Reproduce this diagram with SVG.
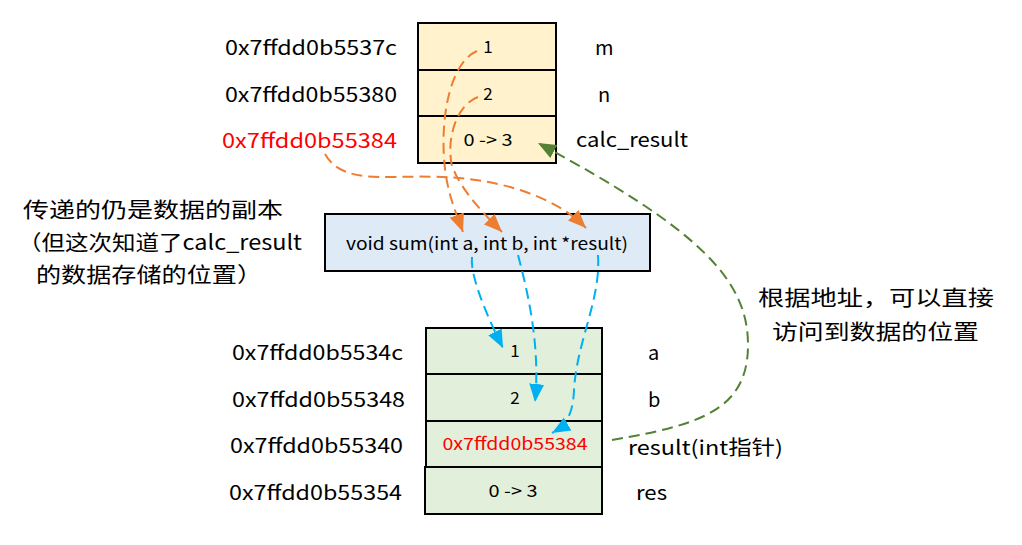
<svg xmlns="http://www.w3.org/2000/svg" width="1022" height="545" viewBox="0 0 1022 545">
<style>
text{font-family:"Noto Sans CJK SC","Liberation Sans",sans-serif;fill:#000}
.lbl{font-size:20px}
.val{font-size:17px;text-anchor:middle}
.red{fill:#FF0000}
.cn{font-size:21px}
.cell{stroke:#000;stroke-width:2}
.top{fill:#FFF2CC}
.mid{fill:#DEEBF7}
.bot{fill:#E2EFDA}
.or{fill:none;stroke:#ED7D31;stroke-width:2;stroke-dasharray:11 6;marker-end:url(#ao)}
.bl{fill:none;stroke:#00B0F0;stroke-width:2;stroke-dasharray:11 6;marker-end:url(#ab)}
.gr{fill:none;stroke:#548235;stroke-width:2;stroke-dasharray:11 6;marker-end:url(#ag)}
</style>
<defs>
<marker id="ao" markerUnits="userSpaceOnUse" markerWidth="20" markerHeight="18" refX="18" refY="9" orient="auto"><path d="M0,1.5 L18,9 L0,16.5 Z" fill="#ED7D31"/></marker>
<marker id="ab" markerUnits="userSpaceOnUse" markerWidth="20" markerHeight="18" refX="18" refY="9" orient="auto"><path d="M0,1.5 L18,9 L0,16.5 Z" fill="#00B0F0"/></marker>
<marker id="ag" markerUnits="userSpaceOnUse" markerWidth="20" markerHeight="18" refX="18" refY="9" orient="auto"><path d="M0,1.5 L18,9 L0,16.5 Z" fill="#548235"/></marker>
</defs>

<g id="caller-memory">
<rect class="cell top" x="418" y="23" width="138" height="47"/>
<rect class="cell top" x="418" y="70" width="138" height="46"/>
<rect class="cell top" x="418" y="116" width="138" height="47"/>
<text class="val" x="488" y="53">1</text>
<text class="val" x="488" y="100">2</text>
<text class="val" x="488" y="146" textLength="49" lengthAdjust="spacingAndGlyphs">0 -&gt; 3</text>
<text class="lbl" x="225" y="55" textLength="172" lengthAdjust="spacingAndGlyphs">0x7ffdd0b5537c</text>
<text class="lbl" x="225" y="102" textLength="172" lengthAdjust="spacingAndGlyphs">0x7ffdd0b55380</text>
<text class="lbl red" x="222" y="148" textLength="175" lengthAdjust="spacingAndGlyphs">0x7ffdd0b55384</text>
<text class="lbl" x="595" y="55">m</text>
<text class="lbl" x="598" y="102">n</text>
<text class="lbl" x="576" y="147" textLength="112" lengthAdjust="spacingAndGlyphs">calc_result</text>
</g>

<g id="function">
<rect class="cell mid" x="325" y="214" width="325" height="57"/>
<text x="346" y="250" style="font-size:17px" textLength="282" lengthAdjust="spacingAndGlyphs">void sum(int a, int b, int *result)</text>
</g>

<g id="callee-memory">
<rect class="cell bot" x="426" y="328" width="176" height="46"/>
<rect class="cell bot" x="426" y="374" width="176" height="47"/>
<rect class="cell bot" x="426" y="421" width="176" height="46"/>
<rect class="cell bot" x="425" y="467" width="177" height="47"/>
<text class="val" x="515" y="357">1</text>
<text class="val" x="515" y="404">2</text>
<text class="val red" x="515" y="450" textLength="145" lengthAdjust="spacingAndGlyphs">0x7ffdd0b55384</text>
<text class="val" x="513" y="497" textLength="49" lengthAdjust="spacingAndGlyphs">0 -&gt; 3</text>
<text class="lbl" x="232" y="360" textLength="171" lengthAdjust="spacingAndGlyphs">0x7ffdd0b5534c</text>
<text class="lbl" x="232" y="407" textLength="173" lengthAdjust="spacingAndGlyphs">0x7ffdd0b55348</text>
<text class="lbl" x="230" y="453" textLength="173" lengthAdjust="spacingAndGlyphs">0x7ffdd0b55340</text>
<text class="lbl" x="229" y="500" textLength="173" lengthAdjust="spacingAndGlyphs">0x7ffdd0b55354</text>
<text class="lbl" x="648" y="360">a</text>
<text class="lbl" x="648" y="407">b</text>
<text class="lbl" x="628" y="455" textLength="155" lengthAdjust="spacingAndGlyphs">result(int指针)</text>
<text class="lbl" x="636" y="500" textLength="31" lengthAdjust="spacingAndGlyphs">res</text>
</g>

<g id="note-left">
<text class="cn" x="23" y="217" textLength="260" lengthAdjust="spacingAndGlyphs">传递的仍是数据的副本</text>
<text class="cn" x="18" y="250" textLength="284" lengthAdjust="spacingAndGlyphs">（但这次知道了calc_result</text>
<text class="cn" x="36" y="282" textLength="226" lengthAdjust="spacingAndGlyphs">的数据存储的位置）</text>
</g>

<g id="note-right">
<text class="cn" x="758" y="305" textLength="236" lengthAdjust="spacingAndGlyphs">根据地址，可以直接</text>
<text class="cn" x="772" y="339" textLength="207" lengthAdjust="spacingAndGlyphs">访问到数据的位置</text>
</g>

<g id="connectors">
<path class="or" d="M477 51 C452 62,441 110,444 158 C446 190,455 210,463 232"/>
<path class="or" d="M478 97 C456 105,446 140,452 166 C462 192,485 215,502 232"/>
<path class="or" d="M325 154 C335 172,355 178,390 177 C440 176,475 176,520 190 C550 200,570 212,586 228"/>
<path class="bl" d="M472 257 C470 275,485 312,503 348"/>
<path class="bl" d="M518 255 C530 300,540 350,535 402"/>
<path class="bl" d="M598 255 C601 300,577 340,574 390 C573 415,566 425,552 433"/>
<path class="gr" d="M612 440 C700 425,748 410,748 345 C748 280,700 230,538 143"/>
</g>
</svg>
